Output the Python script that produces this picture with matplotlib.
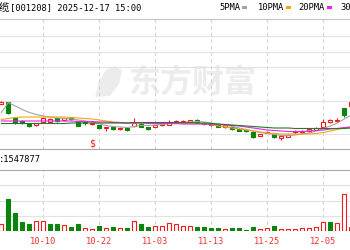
import pandas as pd
import matplotlib.pyplot as plt
from matplotlib.patches import Rectangle, Polygon

plt.rcParams['font.family'] = ['DejaVu Sans Mono', 'Noto Sans CJK SC']

# daily bars 2025-09-24 .. 2025-12-11 (national day holiday skipped)
days = pd.bdate_range('2025-09-24', '2025-12-11')
days = days[(days < '2025-10-01') | (days > '2025-10-08')]
day_labels = [d.strftime('%m-%d') for d in days]
tick_labels = ['10-10', '10-22', '11-03', '11-13', '11-25', '12-05']

opens = [24.55, 24.7, 23.1, 22.85, 22.55, 22.4, 22.75, 22.75, 23.1, 22.9,
         23.2, 22.8, 22.7, 22.5, 22.4, 22.1, 22.2, 22.0, 22.05, 22.3,
         22.55, 22.2, 22.25, 22.4, 22.45, 22.65, 22.65, 22.7, 22.95, 22.65,
         22.55, 22.4, 22.2, 22.2, 22.05, 21.95, 21.75, 21.35, 21.65, 21.5,
         21.1, 21.25, 21.7, 21.75, 21.8, 21.95, 22.25, 22.75, 22.85, 24.05, 24.3]
highs = [24.8, 24.75, 23.15, 22.95, 22.6, 22.6, 23.2, 23.1, 23.15, 23.1,
         23.25, 22.85, 22.75, 22.7, 22.45, 22.25, 22.25, 22.2, 22.1, 23.1,
         22.6, 22.25, 22.45, 22.6, 22.9, 22.9, 22.9, 22.95, 23.0, 22.7,
         22.6, 22.45, 22.4, 22.25, 22.1, 22.0, 21.8, 21.55, 21.85, 21.55,
         21.35, 21.5, 21.9, 21.95, 22.1, 22.2, 23.0, 23.0, 23.1, 24.15, 24.8]
lows = [24.5, 23.55, 22.55, 22.5, 22.25, 22.35, 22.7, 22.6, 22.75, 22.85,
        22.95, 22.3, 22.4, 22.45, 22.05, 21.85, 21.95, 21.95, 21.85, 22.2,
        22.2, 21.95, 22.2, 22.35, 22.4, 22.6, 22.6, 22.65, 22.65, 22.45,
        22.35, 22.2, 22.15, 21.95, 21.8, 21.75, 21.15, 21.3, 21.6, 21.15,
        20.95, 21.2, 21.55, 21.6, 21.75, 21.9, 22.2, 22.6, 22.7, 23.2, 24.2]
closes = [24.7, 23.65, 22.6, 22.6, 22.3, 22.55, 23.15, 23.0, 22.8, 23.05,
          23.0, 22.35, 22.6, 22.65, 22.1, 22.2, 22.0, 22.15, 21.9, 22.6,
          22.25, 22.0, 22.4, 22.55, 22.7, 22.75, 22.8, 22.9, 22.7, 22.5,
          22.4, 22.25, 22.35, 22.0, 21.85, 21.8, 21.25, 21.5, 21.75, 21.2,
          21.3, 21.45, 21.75, 21.8, 22.0, 22.15, 22.75, 22.85, 22.95, 23.45, 24.7]

ma5 = [23.65, 24.65, 24.3, 23.95, 23.65, 23.45, 23.3, 23.2, 23.1, 23.05,
       23.0, 22.9, 22.8, 22.7, 22.5, 22.35, 22.25, 22.2, 22.15, 22.25,
       22.35, 22.35, 22.4, 22.45, 22.55, 22.6, 22.65, 22.7, 22.75, 22.7,
       22.6, 22.5, 22.4, 22.25, 22.1, 21.95, 21.8, 21.65, 21.55, 21.45,
       21.35, 21.35, 21.4, 21.5, 21.6, 21.8, 22.05, 22.3, 22.6, 23.0, 23.4]
ma10 = [22.95, 23.05, 23.15, 23.2, 23.2, 23.2, 23.2, 23.2, 23.2, 23.2,
        23.15, 23.1, 23.05, 23.0, 22.9, 22.8, 22.7, 22.65, 22.6, 22.6,
        22.6, 22.55, 22.55, 22.55, 22.55, 22.55, 22.55, 22.55, 22.55, 22.5,
        22.4, 22.3, 22.2, 22.1, 22.0, 21.9, 21.8, 21.7, 21.6, 21.55,
        21.5, 21.5, 21.5, 21.5, 21.5, 21.55, 21.65, 21.8, 21.95, 22.1, 22.25]
ma20 = [22.8, 22.8, 22.8, 22.8, 22.8, 22.8, 22.8, 22.8, 22.8, 22.8,
        22.8, 22.75, 22.75, 22.75, 22.7, 22.7, 22.65, 22.65, 22.6, 22.6,
        22.6, 22.55, 22.55, 22.55, 22.55, 22.55, 22.5, 22.5, 22.5, 22.5,
        22.45, 22.45, 22.4, 22.35, 22.3, 22.2, 22.1, 22.0, 21.9, 21.85,
        21.8, 21.75, 21.75, 21.75, 21.8, 21.85, 21.9, 22.0, 22.05, 22.15, 22.2]
ma30 = [22.55, 22.55, 22.55, 22.55, 22.55, 22.55, 22.55, 22.55, 22.55, 22.55,
        22.6, 22.6, 22.6, 22.6, 22.6, 22.6, 22.6, 22.6, 22.6, 22.65,
        22.65, 22.65, 22.65, 22.65, 22.65, 22.65, 22.65, 22.65, 22.6, 22.6,
        22.55, 22.5, 22.45, 22.4, 22.35, 22.3, 22.25, 22.2, 22.15, 22.1,
        22.1, 22.1, 22.05, 22.05, 22.05, 22.05, 22.05, 22.05, 22.05, 22.05, 22.1]

volumes = [165000, 812000, 464000, 236000, 170000, 254000, 261000, 170000, 168000, 160000,
           109000, 172000, 84000, 51000, 134000, 86000, 112000, 69000, 71000, 254000,
           173000, 102000, 119000, 116000, 211000, 170000, 127000, 125000, 94000, 96000,
           69000, 70000, 43000, 69000, 68000, 25000, 102000, 43000, 69000, 127000,
           43000, 44000, 58000, 68000, 69000, 109000, 221000, 236000, 195000, 939000, 102000]
vol_colors = 'rggggrrggrggrrgrgrgrggrrrrrrggggrggggrrgrrrrrrrgrrr'
vol_max = 1547877

RED = '#f21a1a'
GREEN = '#0b840b'
MA_COLORS = ['#a3a3a3', '#f5a70f', '#f020f0', '#237a2a']

W, H = 350, 250


def box(x0, y0, x1, y1):
    return [x0 / W, 1 - y1 / H, (x1 - x0) / W, (y1 - y0) / H]


fig = plt.figure(figsize=(3.5, 2.5), dpi=100)
ax = fig.add_axes(box(0, 19, 350, 149))
axv = fig.add_axes(box(0, 170, 350, 231))

x = list(range(len(closes)))
tick_idx = [day_labels.index(t) for t in tick_labels]

for a in (ax, axv):
    a.set_xlim(-1.3 / 7, (350 - 1.3) / 7)
    a.set_xticks(tick_idx)
    a.xaxis.grid(True, ls=(0, (3, 3)), color='#d2d2d2', lw=0.8)
    a.yaxis.grid(True, color='#e2e2e2', lw=0.8)
    a.tick_params(length=0, labelleft=False)
    for s in ('left', 'right'):
        a.spines[s].set_visible(False)

# price panel
ax.set_ylim(20.0, 33.0)
ax.set_yticks([31.3, 29.7, 28.2, 24.8, 21.5])
ax.tick_params(labelbottom=False)
ax.spines['top'].set_color('#c4c4c4')
ax.spines['bottom'].set_color('#a8a8a8')

for i in x:
    up = closes[i] >= opens[i]
    c = RED if up else GREEN
    ax.vlines(i, lows[i], highs[i], color=c, lw=0.8, zorder=2)
    lo = min(opens[i], closes[i])
    h = max(abs(closes[i] - opens[i]), 0.08)
    ax.bar(i, h, bottom=lo, width=0.58, facecolor='white' if up else c,
           edgecolor=c, lw=0.8, zorder=3)

for ma, c in zip([ma5, ma10, ma20, ma30], MA_COLORS):
    ax.plot(x, ma, color=c, lw=0.8, zorder=4)

ax.text(13, 20.5, '$', color=RED, fontsize=7, ha='center', va='center', zorder=5)

# watermark
ax.text(192 / W, 1 - 84 / H, '东方财富', transform=fig.transFigure, fontsize=23,
        color='#ececec', fontfamily='Noto Sans CJK SC', fontweight='bold',
        ha='center', va='center', zorder=1)
leaf = [(95, 97), (99, 81), (106, 70), (115, 66), (122, 70), (119, 84), (110, 96)]
ax.add_patch(Polygon([(px / W, 1 - py / H) for px, py in leaf], closed=True,
                     transform=fig.transFigure, facecolor='#ececec',
                     edgecolor='none', zorder=1))

# volume panel
axv.set_ylim(0, vol_max)
axv.set_yticks([vol_max * 0.25, vol_max * 0.5, vol_max * 0.75])
axv.spines['top'].set_color('#a8a8a8')
axv.spines['bottom'].set_visible(False)
for i in x:
    up = vol_colors[i] == 'r'
    c = RED if up else GREEN
    axv.bar(i, volumes[i], width=0.58, facecolor='white' if up else c,
            edgecolor=c, lw=0.8, zorder=3)
axv.set_xticklabels(tick_labels)
axv.tick_params(labelbottom=True, labelcolor='#f03030', labelsize=6.3, pad=4.5)

# header texts
fig.text(9.5 / W, 1 - 8 / H, '缆', ha='right', va='center', fontsize=7.5,
         fontfamily='Noto Sans CJK SC')
fig.text(10 / W, 1 - 8 / H, '[001208] 2025-12-17 15:00', va='center', fontsize=6.3)
fig.text(-1.3 / W, 1 - 159 / H, ':' + str(vol_max), va='center', fontsize=6.3)

legend_items = [('5PMA', 219, MA_COLORS[0]), ('10PMA', 257.5, MA_COLORS[1]),
                ('20PMA', 298, MA_COLORS[2]), ('30PMA', 340.5, MA_COLORS[3])]
for name, px, c in legend_items:
    fig.text(px / W, 1 - 7.5 / H, name, va='center', fontsize=6.3)
    sx = px + len(name) * 5.3 + 2
    fig.patches.append(Rectangle((sx / W, 1 - 9 / H), 5 / W, 3 / H,
                                 transform=fig.transFigure, facecolor=c,
                                 edgecolor='none'))

fig.savefig('out.png', dpi=100)
